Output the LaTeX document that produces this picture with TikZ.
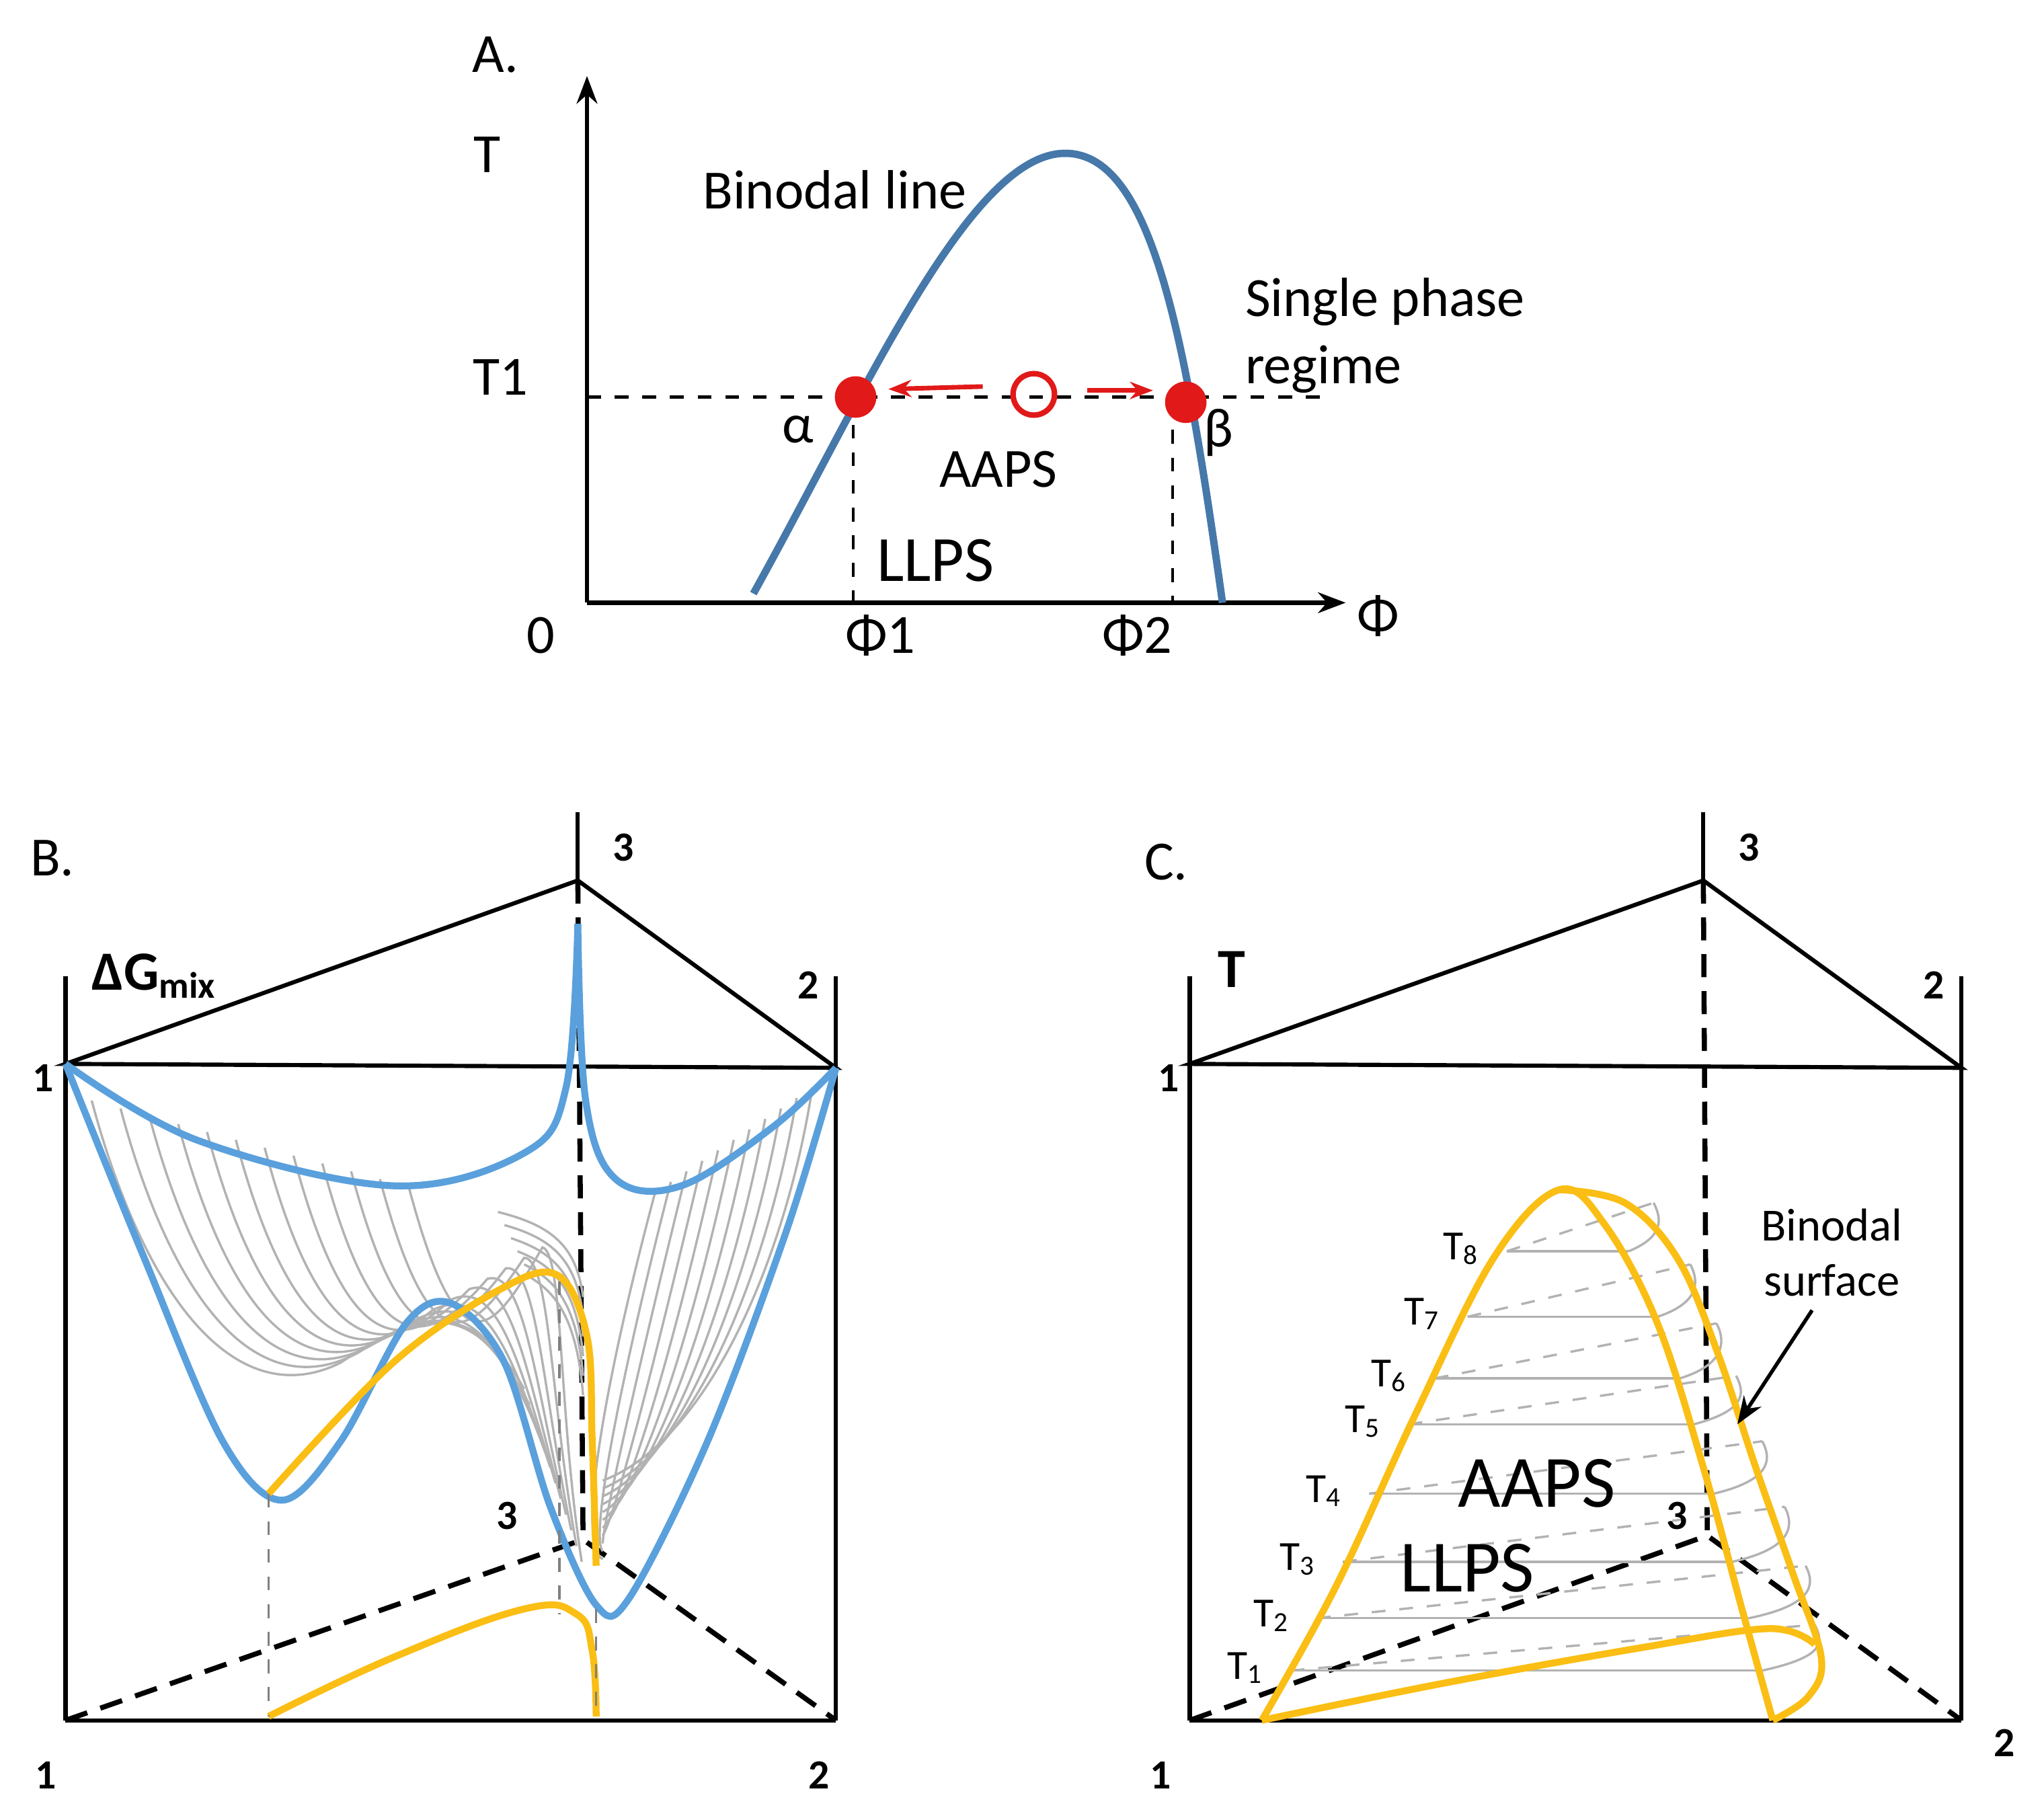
\documentclass[tikz,border=0pt]{standalone}
\usepackage{fontspec}
\setmainfont{Carlito}
\usetikzlibrary{arrows.meta}
\definecolor{bl}{RGB}{70,120,170}
\definecolor{bb}{RGB}{90,160,220}
\definecolor{yl}{RGB}{250,190,20}
\definecolor{rd}{RGB}{225,25,25}
\tikzset{lab/.style={font=\fontsize{12}{14.5}\selectfont},
num/.style={font=\bfseries\fontsize{9}{11}\selectfont},
ax/.style={line width=0.9pt},
blue/.style={bb,line width=1.5pt},
yel/.style={yl,line width=1.5pt},
gr/.style={gray!60,line width=0.5pt},
grd/.style={gray!60,line width=0.5pt,dashed},
bd/.style={black,line width=1.1pt,dash pattern=on 5pt off 3pt}}
\begin{document}
\begin{tikzpicture}[x=0.01cm,y=-0.01cm]
\useasboundingbox (0,0) rectangle (1560,1384);
% ---------- Panel A
\coordinate (O) at (448,460);
\coordinate (Ytop) at (448,58);
\coordinate (Xend) at (1027,460);
\draw[ax,-{Stealth[length=6pt]}] (O) -- (Ytop);
\draw[ax,-{Stealth[length=6pt]}] (O) -- (Xend);
\draw[bl,line width=1.6pt] (575,453) .. controls (660,300) and (740,117) .. (813,117) .. controls (880,117) and (905,260) .. (933,460);
\draw[dashed,line width=0.6pt] (448,303) -- (1010,303);
\draw[dashed,line width=0.6pt] (651,303) -- (651,460);
\draw[dashed,line width=0.6pt] (895,307) -- (895,460);
\node[circle,fill=rd,inner sep=0,minimum size=9pt] (pa) at (653,303) {};
\node[circle,fill=rd,inner sep=0,minimum size=9pt] (pb) at (905,307) {};
\node[circle,draw=rd,line width=1.2pt,inner sep=0,minimum size=9pt] (pc) at (789,301) {};
\coordinate (a1) at (750,295); \coordinate (a2) at (678,297);
\coordinate (b1) at (830,298); \coordinate (b2) at (880,298);
\draw[rd,line width=1pt,-{Stealth[length=5pt]}] (a1) -- (a2);
\draw[rd,line width=1pt,-{Stealth[length=5pt]}] (b1) -- (b2);
\node[lab] at (378,42) {A.};
\node[lab] at (372,118) {T};
\node[lab] at (382,288) {T1};
\node[lab] at (413,485) {0};
\node[lab] at (1052,470) {Φ};
\node[lab] at (672,485) {Φ1};
\node[lab] at (868,485) {Φ2};
\node[lab] at (637,145) {Binodal line};
\node[lab,anchor=west,align=left] at (938,256) {Single phase\\regime};
\node[lab] at (609,328) {α};
\node[lab] at (930,330) {β};
\node[lab] at (762,358) {AAPS};
\node[font=\fontsize{14}{16}\selectfont] at (714,428) {LLPS};
% ---------- Panel B
\coordinate (B1) at (50,812); \coordinate (B3) at (441,672); \coordinate (B2) at (638,815);
\coordinate (Bb1) at (50,1313); \coordinate (Bb3) at (445,1175); \coordinate (Bb2) at (638,1313);
\draw[ax] (50,745) -- (Bb1); \draw[ax] (638,745) -- (Bb2); \draw[ax] (441,620) -- (B3);
\draw[ax] (B1) -- (B3) -- (B2) -- cycle;
\draw[ax] (Bb1) -- (Bb2);
\draw[bd] (B3) -- (Bb3);
\draw[bd] (Bb1) -- (Bb3) -- (Bb2);
% grey curves
\foreach \i in {0,...,11}{
 \draw[gr] (70+22*\i,840+6*\i) .. controls (110+22*\i,990+6*\i) and (180+18*\i,1080-6*\i) .. (260+14*\i,1040-8*\i) .. controls (320+10*\i,1000-4*\i) and (360+6*\i,990+8*\i) .. (400+4*\i,1060+12*\i);
}
\foreach \i in {0,...,10}{
 \draw[gr] (620-12*\i,830+8*\i) .. controls (600-14*\i,960+10*\i) and (540-10*\i,1100+8*\i) .. (460,1130+6*\i);
}
\foreach \i in {0,...,5}{
 \draw[gr] (380+5*\i,925+10*\i) .. controls (420,935+10*\i) and (440,950+10*\i) .. (445,990+15*\i);
}
\draw[blue] plot[smooth,tension=0.6] coordinates {(50,812) (150,870) (300,905) (400,880) (432,830) (441,705)};
\draw[blue] plot[smooth,tension=0.6] coordinates {(441,705) (447,840) (470,900) (520,905) (590,860) (638,815)};
\draw[blue] plot[smooth,tension=0.55] coordinates {(50,812) (110,960) (170,1100) (215,1145) (260,1100) (310,1010) (345,995) (385,1040) (420,1150) (455,1225) (480,1220) (540,1100) (600,940) (638,815)};
\draw[yel] plot[smooth,tension=0.6] coordinates {(205,1140) (300,1040) (380,985) (425,973) (448,1020) (452,1100) (455,1195)};
\draw[yel] plot[smooth,tension=0.7] coordinates {(205,1310) (300,1265) (400,1228) (440,1232) (452,1260) (455,1310)};
\draw[gray,dashed,line width=0.5pt] (205,1140) -- (205,1310);
\draw[gray,dashed,line width=0.5pt] (427,978) -- (427,1232);
\draw[gray,dashed,line width=0.5pt] (455,1228) -- (455,1310);
\node[lab] at (40,655) {B.};
\node[num] at (476,647) {3};
\node[num] at (617,752) {2};
\node[num] at (33,823) {1};
\node[font=\bfseries\fontsize{12}{14}\selectfont] at (118,745) {ΔG\textsubscript{mix}};
\node[num] at (387,1157) {3};
\node[num] at (35,1355) {1};
\node[num] at (625,1355) {2};
% ---------- Panel C
\coordinate (C1) at (908,812); \coordinate (C3) at (1300,672); \coordinate (C2) at (1497,815);
\coordinate (Cb1) at (908,1313); \coordinate (Cb3) at (1303,1172); \coordinate (Cb2) at (1497,1313);
\draw[ax] (908,745) -- (Cb1); \draw[ax] (1497,745) -- (Cb2); \draw[ax] (1300,620) -- (C3);
\draw[ax] (C1) -- (C3) -- (C2) -- cycle;
\draw[ax] (Cb1) -- (Cb2);
\draw[bd] (C3) -- (Cb3);
\draw[bd] (Cb1) -- (Cb3) -- (Cb2);
% isotherms
\foreach \yy/\xl/\xr/\xb/\yb/\n in {955/1150/1243/1262/918/8,1005/1120/1265/1290/965/7,1052/1095/1282/1310/1010/6,1087/1075/1293/1325/1050/5,1140/1045/1308/1345/1100/4,1192/1025/1322/1362/1150/3,1235/1005/1335/1378/1195/2,1275/985/1345/1385/1240/1}{
 \draw[gr] (\xl,\yy) -- (\xr,\yy);
 \draw[grd] (\xl,\yy) -- (\xb,\yb);
 \draw[gr] (\xb,\yb) .. controls (\xb+8,\yb+15) and (\xb+5,\yy-10) .. (\xr,\yy);
 \node[font=\fontsize{9}{11}\selectfont,anchor=east] at (\xl-8,\yy-2) {T\textsubscript{\n}};
}
\draw[yel] plot[smooth,tension=0.6] coordinates {(963,1313) (1020,1210) (1080,1080) (1140,960) (1190,908) (1225,935) (1265,1010) (1300,1120) (1330,1230) (1353,1313)};
\draw[yel] plot[smooth,tension=0.6] coordinates {(1190,908) (1240,918) (1280,960) (1310,1030) (1340,1120) (1368,1200) (1390,1265) (1380,1295) (1353,1313)};
\draw[yel] plot[smooth,tension=0.6] coordinates {(963,1313) (1100,1285) (1250,1258) (1350,1243) (1385,1255)};
\node[font=\fontsize{16}{18}\selectfont] at (1173,1132) {AAPS};
\node[font=\fontsize{16}{18}\selectfont] at (1120,1197) {LLPS};
\node[align=center,font=\fontsize{10}{12}\selectfont] (bs) at (1398,956) {Binodal\\surface};
\coordinate (arr) at (1326,1087);
\draw[line width=0.8pt,-{Stealth[length=6pt]}] (1383,1000) -- (arr);
\node[lab] at (890,658) {C.};
\node[font=\bfseries\fontsize{12}{14}\selectfont] at (940,740) {T};
\node[num] at (1335,647) {3};
\node[num] at (1476,752) {2};
\node[num] at (892,823) {1};
\node[num] at (1280,1157) {3};
\node[num] at (886,1355) {1};
\node[num] at (1530,1330) {2};
\end{tikzpicture}
\end{document}
